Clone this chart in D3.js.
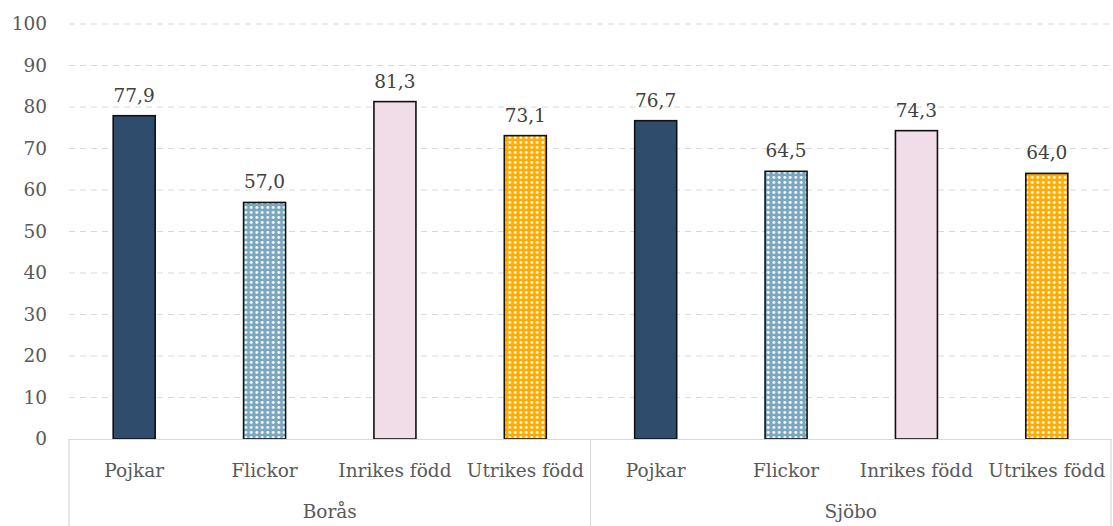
<!DOCTYPE html>
<html><head><meta charset="utf-8">
<script src="https://cdn.jsdelivr.net/npm/d3@7"></script>
<style>body{margin:0;background:#fff}svg{display:block}</style>
</head><body>
<script>
const groups = ["Borås", "Sjöbo"];
const categories = ["Pojkar", "Flickor", "Inrikes född", "Utrikes född"];
const borasValues = [77.9, 57.0, 81.3, 73.1];
const sjoboValues = [76.7, 64.5, 74.3, 64.0];
const yTicks = [0, 10, 20, 30, 40, 50, 60, 70, 80, 90, 100];

(function () {
const W = 1113, H = 526;
const mLeft = 69, mRight = 1112, mTop = 24, mBottom = 439;
const font = "DejaVu Serif";
const fs = 18.5;

const data = [];
groups.forEach((g, gi) => {
  const vals = gi === 0 ? borasValues : sjoboValues;
  categories.forEach((c, ci) => data.push({group: g, cat: c, ci, key: g + "|" + c, value: vals[ci]}));
});

const svg = d3.select("body").append("svg").attr("width", W).attr("height", H);
const defs = svg.append("defs");
function dots(id, bg) {
  const p = defs.append("pattern").attr("id", id).attr("patternUnits", "userSpaceOnUse")
    .attr("width", 5.5).attr("height", 5).attr("x", 1);
  p.append("rect").attr("width", 5.5).attr("height", 5).attr("fill", bg);
  p.append("circle").attr("cx", 2.75).attr("cy", 2.5).attr("r", 1.4).attr("fill", "#fff");
}
dots("dotBlue", "#7ba6c0");
dots("dotOrange", "#ffab00");
const fills = ["#2f4c6d", "url(#dotBlue)", "#f0dde8", "url(#dotOrange)"];

const x = d3.scaleBand().domain(data.map(d => d.key)).range([mLeft, mRight]).paddingInner(0).paddingOuter(0);
const y = d3.scaleLinear().domain([0, 100]).range([mBottom, mTop]);

// gridlines
svg.append("g").selectAll("line").data(yTicks.filter(t => t > 0)).join("line")
  .attr("x1", mLeft).attr("x2", mRight).attr("y1", d => y(d)).attr("y2", d => y(d))
  .attr("stroke", "#d9d9d9").attr("stroke-width", 1).attr("stroke-dasharray", "6,5");

// y axis labels
const yAxis = d3.axisLeft(y).tickValues(yTicks).tickSize(0).tickPadding(0).tickFormat(d3.format("d"));
const ya = svg.append("g").attr("transform", `translate(47,0)`).call(yAxis);
ya.select(".domain").remove();
ya.selectAll("text").attr("font-family", font).attr("font-size", fs).attr("fill", "#595959");

// bars
const bw = 42;
svg.append("g").selectAll("rect").data(data).join("rect")
  .attr("x", d => x(d.key) + x.bandwidth() / 2 - bw / 2)
  .attr("width", bw)
  .attr("y", d => y(d.value))
  .attr("height", d => y(0) - y(d.value))
  .attr("fill", d => fills[d.ci])
  .attr("stroke", "#111").attr("stroke-width", 1.6);

// value labels
svg.append("g").selectAll("text").data(data).join("text")
  .attr("x", d => x(d.key) + x.bandwidth() / 2)
  .attr("y", d => y(d.value) - 14)
  .attr("text-anchor", "middle")
  .attr("font-family", font).attr("font-size", fs).attr("fill", "#404040")
  .text(d => d3.format(".1f")(d.value).replace(".", ","));

// category axis
const ax = svg.append("g");
ax.append("line").attr("x1", mLeft).attr("x2", mRight).attr("y1", mBottom + 0.5).attr("y2", mBottom + 0.5)
  .attr("stroke", "#d9d9d9").attr("stroke-width", 1.2);
const seps = [mLeft, x(groups[1] + "|" + categories[0]), mRight - 1];
ax.selectAll("line.sep").data(seps).join("line").attr("class", "sep")
  .attr("x1", d => d).attr("x2", d => d).attr("y1", mBottom).attr("y2", H)
  .attr("stroke", "#d9d9d9").attr("stroke-width", 1.2);
ax.selectAll("text.cat").data(data).join("text").attr("class", "cat")
  .attr("x", d => x(d.key) + x.bandwidth() / 2).attr("y", 477)
  .attr("text-anchor", "middle").attr("font-family", font).attr("font-size", fs).attr("fill", "#595959")
  .text(d => d.cat);
ax.selectAll("text.grp").data(groups).join("text").attr("class", "grp")
  .attr("x", (g, i) => (seps[i] + seps[i + 1]) / 2).attr("y", 518)
  .attr("text-anchor", "middle").attr("font-family", font).attr("font-size", fs).attr("fill", "#595959")
  .text(g => g);
})();
</script>
</body></html>
